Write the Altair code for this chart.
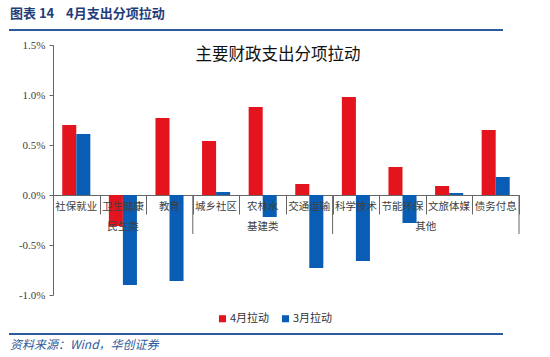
import altair as alt
import pandas as pd

cats = ["社保就业", "卫生健康", "教育", "城乡社区", "农林水", "交通运输", "科学技术", "节能环保", "文旅体媒", "债务付息"]
apr = [0.70, -0.31, 0.77, 0.54, 0.88, 0.11, 0.98, 0.28, 0.09, 0.65]
mar = [0.61, -0.90, -0.86, 0.03, -0.22, -0.73, -0.66, -0.28, 0.02, 0.18]
series = ["4月拉动", "3月拉动"]
colors = ["#E3141D", "#0A5DB5"]
groups = ["民生类", "基建类", "其他"]
group_start = [0, 3, 6]
group_end = [3, 6, 10]
y_ticks = [-1.0, -0.5, 0.0, 0.5, 1.0, 1.5]

header = "图表 14\u00a0\u00a0\u00a0 4月支出分项拉动"
chart_title = "主要财政支出分项拉动"
footer = "资料来源：Wind，华创证券"

rows = []
for c, a, m in zip(cats, apr, mar):
    rows.append({"cat": c, "series": series[0], "v": a})
    rows.append({"cat": c, "series": series[1], "v": m})
df = pd.DataFrame(rows)
cdf = pd.DataFrame({"cat": cats})

gdf = pd.DataFrame({"g": groups, "s": group_start, "e": group_end})
gdf["mid"] = (gdf["s"] + gdf["e"]) / 2
bdf = pd.DataFrame({"b": group_end})

n = len(cats)
CJK = "Noto Sans CJK SC"
W, H = 466, 250

yscale = alt.Scale(domain=[-1.0, 1.5], nice=False, zero=False)
lin = alt.Scale(domain=[0, n], nice=False, zero=False)
xband = alt.Scale(domain=cats, paddingInner=0, paddingOuter=0)

bars = alt.Chart(df).mark_bar().encode(
    x=alt.X("cat:N", sort=cats, title=None, scale=xband,
            axis=alt.Axis(orient="bottom", offset=-100, tickBand="extent", tickSize=19,
                          labels=False, domainColor="#666666", tickColor="#666666")),
    xOffset=alt.XOffset("series:N", sort=series,
                        scale=alt.Scale(paddingInner=0, paddingOuter=0.66)),
    y=alt.Y("v:Q", scale=yscale, title=None,
            axis=alt.Axis(values=y_ticks, grid=False, tickSize=4, labelPadding=4,
                          labelExpr="(datum.value < 0 ? '-' : '') + format(abs(datum.value), '.1f') + '%'",
                          labelFont="Liberation Serif", labelFontSize=11, labelColor="#404040",
                          domainColor="#666666", tickColor="#666666")),
    color=alt.Color("series:N", scale=alt.Scale(domain=series, range=colors),
                    legend=alt.Legend(title=None, orient="none", legendX=164, legendY=268,
                                      direction="horizontal", symbolType="square", symbolSize=50,
                                      symbolStrokeWidth=0, labelFontSize=11, labelFont=CJK,
                                      labelColor="#333333", labelOffset=2, columnPadding=10)),
)

clabels = alt.Chart(cdf).mark_text(font=CJK, fontSize=10.5, color="#404040", baseline="middle").encode(
    x=alt.X("cat:N", sort=cats, scale=xband, axis=None),
    y=alt.value(162),
    text="cat:N",
)

seps = alt.Chart(bdf).mark_rule(color="#666666", strokeWidth=1).encode(
    x=alt.X("b:Q", scale=lin, axis=None),
    y=alt.datum(0.0),
    y2=alt.datum(-0.39),
)

glabels = alt.Chart(gdf).mark_text(font=CJK, fontSize=10.5, color="#404040", baseline="middle").encode(
    x=alt.X("mid:Q", scale=lin, axis=None),
    y=alt.value(182),
    text="g:N",
)

one = pd.DataFrame({"t": [0]})

head = alt.Chart(one).mark_text(text=header, font=CJK, fontSize=13, fontWeight="bold",
                                color="#1F3D7A", align="left", baseline="middle").encode(
    x=alt.value(-43), y=alt.value(-31))

top_line = alt.Chart(one).mark_rule(color="#2E5C9A", strokeWidth=2).encode(
    x=alt.value(-44), x2=alt.value(450), y=alt.value(-15))

bot_line = alt.Chart(one).mark_rule(color="#2E5C9A", strokeWidth=2).encode(
    x=alt.value(-44), x2=alt.value(450), y=alt.value(289))

title_t = alt.Chart(one).mark_text(text=chart_title, font=CJK, fontSize=16.5, color="#111111",
                                   align="center", baseline="middle").encode(
    x=alt.value(225), y=alt.value(10))

foot = alt.Chart(one).mark_text(text=footer, font=CJK, fontSize=12, fontStyle="italic",
                                color="#2E5C9A", align="left", baseline="middle").encode(
    x=alt.value(-43), y=alt.value(300))

chart = alt.layer(bars, clabels, seps, glabels, head, top_line, bot_line, title_t, foot).resolve_scale(
    x="independent"
).properties(
    width=W, height=H,
    autosize=alt.AutoSizeParams(type="none"),
    padding={"left": 53, "top": 45, "right": 31, "bottom": 62},
    background="white",
).configure_view(stroke=None)

chart.save("out.html", embed_options={"renderer": "svg", "actions": False})
